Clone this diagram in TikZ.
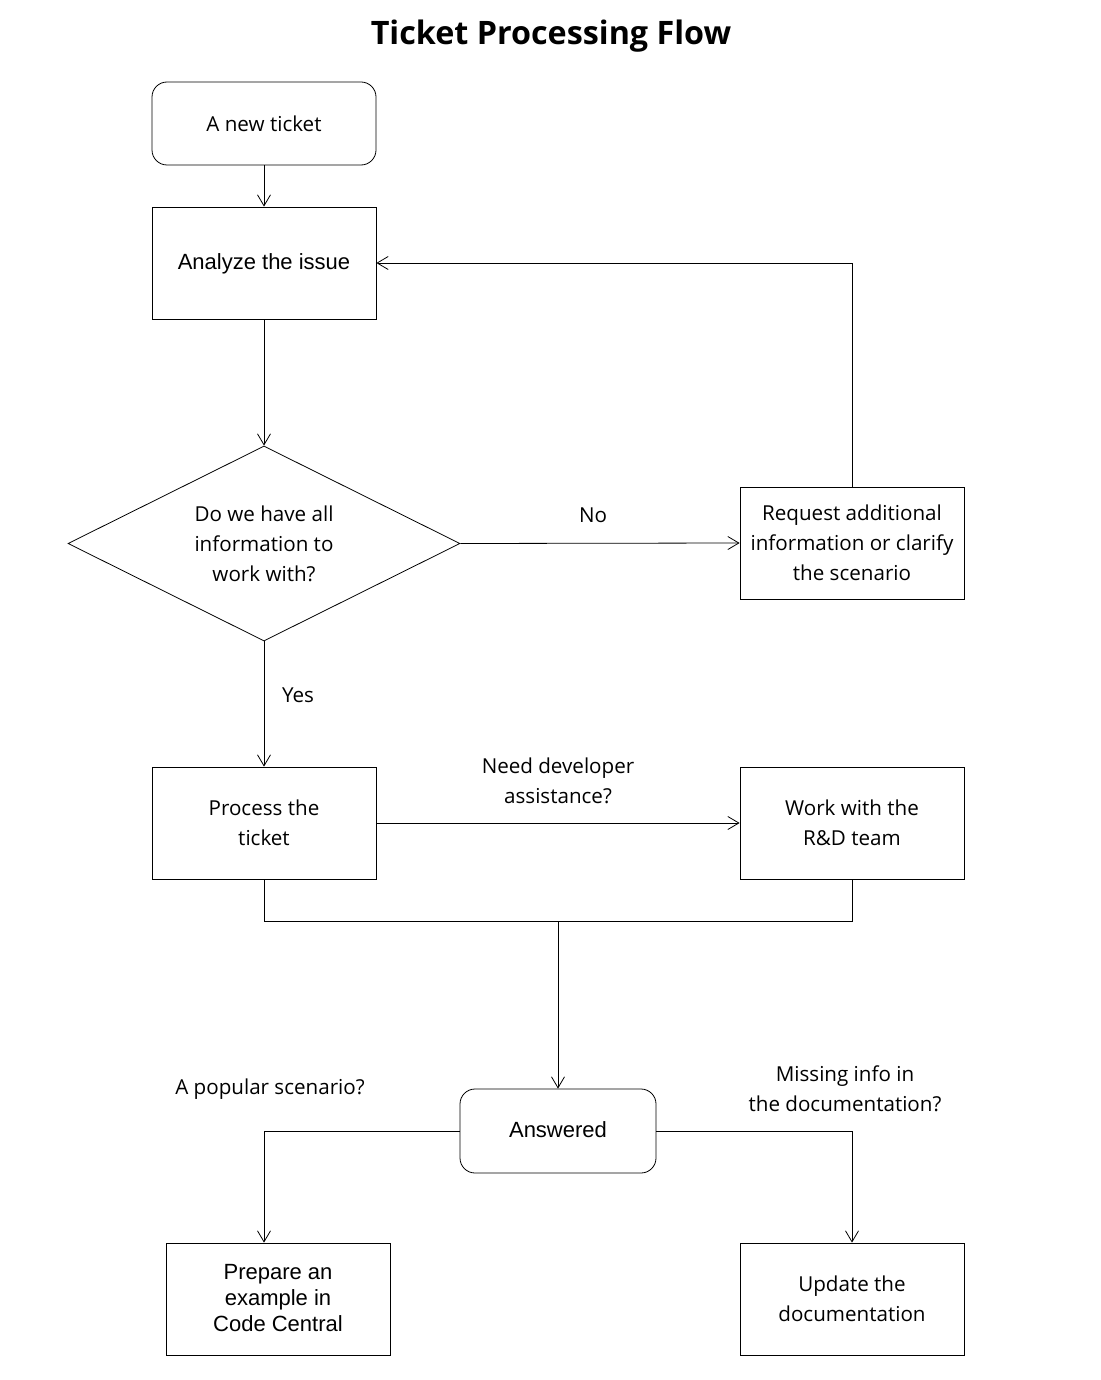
\documentclass[tikz,border=0pt]{standalone}
\usepackage{fontspec}
\setmainfont{Open Sans}
\newfontfamily\arialf{Liberation Sans}
\usetikzlibrary{shapes.geometric,arrows.meta}
\tikzset{
  base/.style={draw=black, line width=0.8pt, align=center, inner sep=0pt, font=\fontsize{20.6}{30}\selectfont},
  procbox/.style={base, rectangle, minimum width=224pt, minimum height=112pt},
  termbox/.style={base, rectangle, rounded corners=15pt},
  decbox/.style={base, diamond, minimum width=392pt, minimum height=195pt, aspect=2},
  arialtxt/.style={font=\arialf\fontsize{22}{26}\selectfont, text depth=2pt},
  lbl/.style={align=center, inner sep=0pt, font=\fontsize{20.6}{30}\selectfont},
  conn/.style={draw=black, line width=0.8pt},
  arr/.style={conn, -{Straight Barb[length=11pt,width=13pt,line width=0.8pt]}},
}
\begin{document}
\begin{tikzpicture}[x=1pt,y=-1pt]
\useasboundingbox (0,0) rectangle (1100,1380);
\node[font=\bfseries\fontsize{32.3}{36}\selectfont, inner sep=0pt] (title) at (551,36) {Ticket Processing Flow};

\node[termbox, minimum width=224pt, minimum height=83pt] (new) at (264,123.5) {A new ticket};
\node[procbox, arialtxt] (analyze) at (264,263) {Analyze the issue};
\node[decbox] (dec) at (264,543.5) {Do we have all\\information to\\work with?};
\node[procbox] (request) at (852,543) {Request additional\\information or clarify\\the scenario};
\node[procbox] (process) at (264,823) {Process the\\ticket};
\node[procbox] (work) at (852,823) {Work with the\\R\&D team};
\node[termbox, arialtxt, minimum width=196pt, minimum height=84pt] (answered) at (558,1131) {Answered};
\node[procbox, arialtxt] (prepare) at (278,1299) {Prepare an\\example in\\Code Central};
\node[procbox] (update) at (852,1299) {Update the\\documentation};

\coordinate (merge) at (558,921);
\coordinate (mergeL) at (264,921);
\coordinate (mergeR) at (852,921);

\draw[arr] (new) -- (analyze);
\draw[arr] (analyze) -- (dec.north);
\draw[arr] (dec.east) -- node[lbl, pos=0.475, yshift=28.5pt] (no) {No} (request.west);
\draw[arr] (request.north) |- (analyze.east);
\draw[arr] (dec.south) -- node[lbl, pos=0.43, xshift=34pt] (yes) {Yes} (process.north);
\draw[arr] (process.east) -- (work.west);
\node[lbl] (needdev) at (558,781) {Need developer\\assistance?};
\draw[conn] (process.south) -- (mergeL) -- (mergeR) -- (work.south);
\draw[arr] (merge) -- (answered.north);
\draw[arr] (answered.west) -| ([xshift=-14pt]prepare.north);
\draw[arr] (answered.east) -| (update.north);
\node[lbl] (popular) at (270,1089) {A popular scenario?};
\node[lbl] (missing) at (845,1089) {Missing info in\\the documentation?};
\end{tikzpicture}
\end{document}
